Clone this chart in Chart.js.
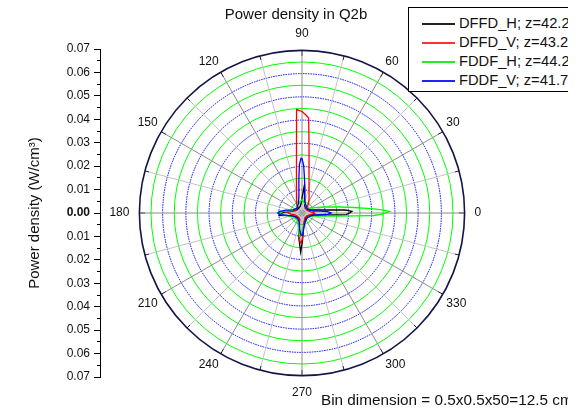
<!DOCTYPE html>
<html>
<head>
<meta charset="utf-8">
<script src="https://cdn.jsdelivr.net/npm/chart.js@4.4.0/dist/chart.umd.min.js"></script>
<style>
  html, body { margin: 0; padding: 0; background: #fff; }
  #page { position: relative; width: 588px; height: 409px; overflow: hidden; background: #fff;
          font-family: Arial, "Liberation Sans", sans-serif; color: #111; }
  #fig { position: absolute; left: 0; top: 0; width: 568px; height: 409px; overflow: hidden; }
  #polar { position: absolute; left: 96px; top: 0; }
  #axis { position: absolute; left: 0; top: 0; }
  #legend { position: absolute; left: 408px; top: 7px; width: 220px; height: 83px;
            border: 1px solid #000; background: #fff; }
  #legend .row { position: absolute; left: 0; height: 19px; width: 220px; }
  #legend .swatch { position: absolute; left: 13px; top: 9px; width: 33px; height: 0; border-top: 2px solid; }
  #legend .lbl { position: absolute; left: 50px; top: 0; font-size: 14.7px; line-height: 19px; white-space: nowrap; }
  #note { position: absolute; left: 321px; top: 391px; font-size: 15.3px; line-height: 18px; white-space: nowrap; }
</style>
</head>
<body>
<div id="page">
  <div id="fig">
    <canvas id="axis" width="104" height="409"></canvas>
    <canvas id="polar" width="400" height="409"></canvas>
    <div id="legend"></div>
    <div id="note">Bin dimension = 0.5x0.5x50=12.5 cm³</div>
  </div>
</div>
<script>
const FONT = 'Arial, "Liberation Sans", sans-serif';

// radial range of the polar plot and the mirrored left axis
const rMax = 0.07;
const ringStep = 0.005;

const seriesNames = ['DFFD_H; z=42.25', 'DFFD_V; z=43.25', 'FDDF_H; z=44.25', 'FDDF_V; z=41.75'];
const seriesColors = ['#000000', '#ff0000', '#00ff00', '#0000ff'];
const swatchColors = ['#222222', '#ff3333', '#22ee22', '#2222ff'];

// power density (W/cm3) against angle (deg), sampled where the curves bend
const dffdHAngles = [0, 2, 3, 4, 6, 9, 15, 25, 45, 65, 75, 80, 83, 85, 87, 90, 95, 105, 135, 160, 172, 178, 182, 186, 190, 200, 225, 250, 258, 263, 268, 271, 275, 285, 315, 340, 348, 354, 357, 358];
const dffdHValues = [0.0205, 0.0215, 0.0200, 0.0185, 0.0124, 0.0083, 0.0050, 0.0032, 0.0025, 0.0030, 0.0040, 0.0060, 0.0090, 0.0124, 0.0090, 0.0065, 0.0042, 0.0030, 0.0025, 0.0030, 0.0050, 0.0080, 0.0092, 0.0098, 0.0065, 0.0040, 0.0025, 0.0030, 0.0055, 0.0110, 0.0168, 0.0120, 0.0070, 0.0040, 0.0025, 0.0030, 0.0042, 0.0083, 0.0165, 0.0190];

const dffdVAngles = [0, 6, 15, 30, 45, 55, 65, 70, 76, 80, 82, 84, 86, 88, 90, 93, 95, 98, 102, 110, 120, 135, 160, 170, 175, 180, 186, 195, 225, 250, 258, 262, 266, 268, 271, 275, 282, 300, 330, 350, 356];
const dffdVValues = [0.0055, 0.0040, 0.0030, 0.0025, 0.0025, 0.0050, 0.0072, 0.0089, 0.0125, 0.0174, 0.0217, 0.0290, 0.0410, 0.0424, 0.0437, 0.0446, 0.0272, 0.0171, 0.0114, 0.0069, 0.0045, 0.0030, 0.0030, 0.0045, 0.0058, 0.0060, 0.0048, 0.0030, 0.0025, 0.0030, 0.0050, 0.0085, 0.0125, 0.0130, 0.0110, 0.0070, 0.0040, 0.0025, 0.0025, 0.0040, 0.0052];

const fddfHAngles = [0, 1, 2, 3, 4, 6, 9, 14, 20, 30, 50, 70, 82, 90, 98, 115, 140, 165, 175, 180, 185, 200, 230, 255, 264, 268, 275, 295, 320, 340, 350, 355, 357, 358, 359];
const fddfHValues = [0.0360, 0.0377, 0.0350, 0.0320, 0.0280, 0.0226, 0.0165, 0.0107, 0.0070, 0.0042, 0.0030, 0.0040, 0.0050, 0.0058, 0.0050, 0.0040, 0.0032, 0.0045, 0.0080, 0.0100, 0.0085, 0.0045, 0.0035, 0.0060, 0.0100, 0.0095, 0.0060, 0.0040, 0.0030, 0.0040, 0.0075, 0.0148, 0.0230, 0.0310, 0.0340];

const fddfVAngles = [0, 3, 6, 10, 20, 45, 65, 75, 80, 84, 86, 88, 90, 91, 93, 95, 97, 100, 110, 135, 160, 170, 176, 180, 184, 190, 205, 230, 252, 262, 267, 272, 278, 290, 315, 340, 350, 354, 357];
const fddfVValues = [0.0125, 0.0110, 0.0080, 0.0050, 0.0035, 0.0030, 0.0038, 0.0050, 0.0070, 0.0115, 0.0152, 0.0205, 0.0234, 0.0236, 0.0210, 0.0152, 0.0110, 0.0075, 0.0045, 0.0030, 0.0040, 0.0070, 0.0095, 0.0104, 0.0095, 0.0060, 0.0035, 0.0030, 0.0040, 0.0070, 0.0095, 0.0095, 0.0060, 0.0040, 0.0030, 0.0038, 0.0050, 0.0080, 0.0110];

// one radar spoke per degree; radar runs clockwise from startAngle,
// so spoke j sits at (360 - j) degrees counter-clockwise from the right
const spokeLabels = [];
for (let j = 0; j < 360; j++) spokeLabels.push(String((360 - j) % 360));
const spokeAngle = (index) => (360 - index) % 360;

function toSpokes(angles, values) {
  const out = new Array(360).fill(null);
  angles.forEach((a, k) => { out[(360 - a) % 360] = values[k]; });
  return out;
}

const seriesData = [
  toSpokes(dffdHAngles, dffdHValues),
  toSpokes(dffdVAngles, dffdVValues),
  toSpokes(fddfHAngles, fddfHValues),
  toSpokes(fddfVAngles, fddfVValues)
];

const lastRing = Math.round(rMax / ringStep);

// spoke colour: grey inside, dark near the rim so the rim gets tick marks
function spokeStroke(c) {
  const a = spokeAngle(c.index);
  const major = a % 30 === 0;
  const r = c.chart.scales.r;
  const R = r.drawingArea;
  const g = c.chart.ctx.createRadialGradient(r.xCenter, r.yCenter, 0, r.xCenter, r.yCenter, R);
  const cut = (R - (major ? 6 : 4)) / R;
  const grey = major ? '#8c8c8c' : '#c4c4c4';
  g.addColorStop(0, grey);
  g.addColorStop(cut, grey);
  g.addColorStop(cut, '#1a1a1a');
  g.addColorStop(1, '#1a1a1a');
  return g;
}

new Chart(document.getElementById('polar'), {
  type: 'radar',
  data: {
    labels: spokeLabels,
    datasets: seriesData.map((d, i) => ({
      label: seriesNames[i],
      data: d,
      borderColor: seriesColors[i],
      backgroundColor: 'transparent',
      borderWidth: 1.3,
      fill: false,
      spanGaps: true,
      order: 3 - i
    }))
  },
  options: {
    responsive: false,
    animation: false,
    devicePixelRatio: 1,
    events: [],
    layout: { padding: { top: 0, bottom: 9, left: 0, right: 0 } },
    elements: {
      line: { tension: 0 },
      point: { radius: 0, hoverRadius: 0, hitRadius: 0 }
    },
    plugins: {
      legend: { display: false },
      tooltip: { enabled: false },
      title: {
        display: true,
        text: 'Power density in Q2b',
        color: '#111',
        font: { family: FONT, size: 15, weight: 'normal' },
        padding: { top: 5.5, bottom: 2.5 }
      }
    },
    scales: {
      r: {
        min: 0,
        max: rMax,
        startAngle: 90,
        ticks: { display: false, stepSize: ringStep },
        grid: {
          circular: true,
          color: (c) => c.index === lastRing ? '#14144a' : (c.index % 2 ? '#00ff00' : '#0000ff'),
          lineWidth: (c) => c.index === lastRing ? 1.6 : 1
        },
        border: {
          dash: (c) => (c.index !== lastRing && c.index % 2 === 0) ? [1.5, 1] : []
        },
        angleLines: {
          color: (c) => spokeAngle(c.index) % 15 === 0 ? spokeStroke(c) : null,
          lineWidth: (c) => spokeAngle(c.index) % 15 === 0 ? 1 : 0
        },
        pointLabels: {
          // axis-aligned labels sit a little further out than the diagonal ones
          padding: (c) => spokeAngle(c.index) % 90 === 0 ? 10 : 4,
          color: '#111',
          font: { family: FONT, size: 12 },
          callback: (label) => (+label % 30 === 0) ? label : ''
        }
      }
    }
  }
});

// mirrored power density axis on the left: 0.07 .. 0.00 .. 0.07
new Chart(document.getElementById('axis'), {
  type: 'line',
  data: { labels: ['a'], datasets: [] },
  options: {
    responsive: false,
    animation: false,
    devicePixelRatio: 1,
    events: [],
    layout: { padding: { top: 49, bottom: 32, left: 0, right: 2 } },
    plugins: { legend: { display: false }, tooltip: { enabled: false } },
    scales: {
      x: { display: false },
      y: {
        display: true,
        position: 'left',
        weight: 1,
        min: -rMax,
        max: rMax,
        afterFit: (s) => { s.width = 100; },
        ticks: {
          stepSize: 0.01,
          autoSkip: false,
          padding: 4,
          color: '#111',
          font: (c) => ({ family: FONT, size: 12, weight: (c.tick && c.tick.value === 0) ? 'bold' : 'normal' }),
          callback: (v) => Math.abs(v).toFixed(2)
        },
        grid: { drawOnChartArea: false, tickLength: 6, color: '#000', tickColor: '#000' },
        border: { display: true, color: '#000', width: 1 },
        title: {
          display: true,
          text: 'Power density (W/cm³)',
          color: '#111',
          font: { family: FONT, size: 15 },
          padding: { top: 26, bottom: 0 }
        }
      },
      yMinor: {
        display: true,
        position: 'left',
        weight: 0,
        min: -rMax,
        max: rMax,
        afterFit: (s) => { s.width = 0; },
        ticks: { stepSize: ringStep, autoSkip: false, display: false },
        grid: { drawOnChartArea: false, tickLength: 3, color: '#000', tickColor: '#000' },
        border: { display: false }
      }
    }
  }
});

// legend box
const legend = document.getElementById('legend');
seriesNames.forEach((name, i) => {
  const row = document.createElement('div');
  row.className = 'row';
  row.style.top = (6 + i * 19) + 'px';
  row.innerHTML = '<span class="swatch" style="border-top-color:' + swatchColors[i] + '"></span><span class="lbl">' + name + '</span>';
  legend.appendChild(row);
});
</script>
</body>
</html>
